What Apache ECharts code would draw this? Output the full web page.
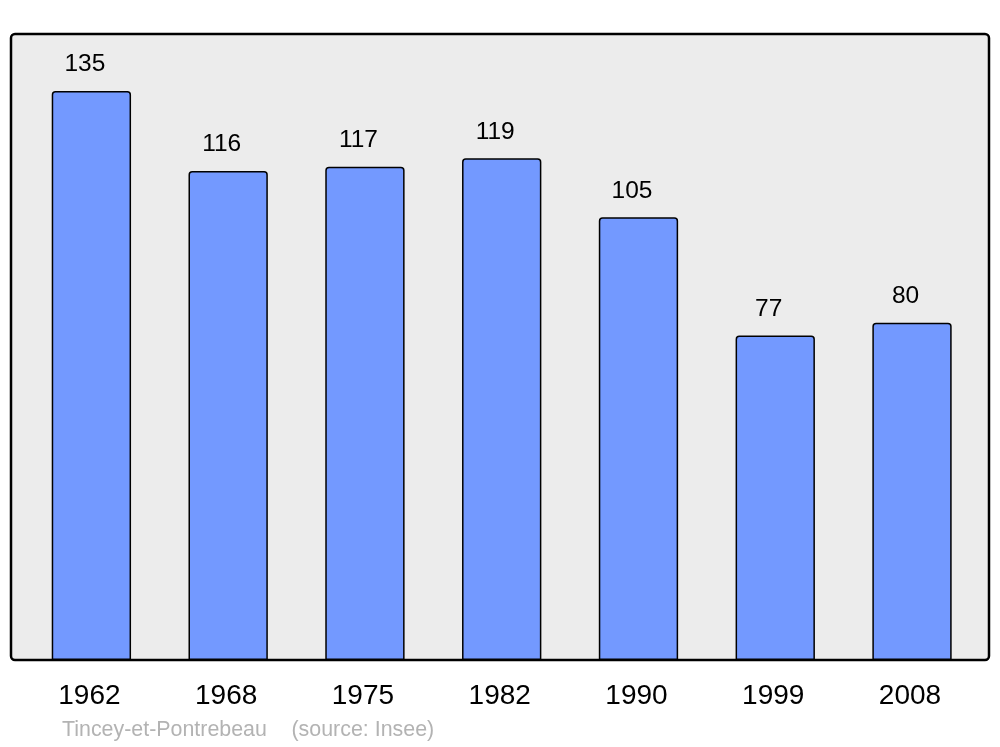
<!DOCTYPE html>
<html><head><meta charset="utf-8">
<script src="https://cdn.jsdelivr.net/npm/echarts@6/dist/echarts.min.js"></script>
<style>html,body{margin:0;padding:0;background:#fff}#c{width:1000px;height:747px}</style>
</head><body><div id="c"></div>
<script>
const years = ['1962','1968','1975','1982','1990','1999','2008'];
const population = [135,116,117,119,105,77,80];
const placeName = 'Tincey-et-Pontrebeau';
const sourceText = '(source: Insee)';

const chart = echarts.init(document.getElementById('c'), null, {renderer:'canvas'});
chart.setOption({
  animation:false,
  backgroundColor:'#ffffff',
  textStyle:{fontFamily:'Liberation Sans, Arial, sans-serif'},
  grid:{left:23, right:19.6, top:34, bottom:87, containLabel:false},
  xAxis:{
    type:'category', data:years,
    axisLine:{show:false}, axisTick:{show:false}, splitLine:{show:false},
    axisLabel:{fontSize:28, color:'#000', margin:22, padding:[0,4,0,0], fontFamily:'Liberation Sans, Arial, sans-serif'}
  },
  yAxis:{
    type:'value', min:0, max:148.5,
    show:false
  },
  graphic:[
    {type:'rect', z:-10, shape:{x:11, y:34, width:978, height:626, r:4},
     style:{fill:'#ececec', stroke:'#000', lineWidth:2.5}},
    {type:'text', left:62, top:720, z:10,
     style:{text:placeName, fill:'#b3b3b3', fontSize:21.4, fontFamily:'Liberation Sans, Arial, sans-serif'}},
    {type:'text', left:291.5, top:720, z:10,
     style:{text:sourceText, fill:'#b3b3b3', fontSize:21.4, fontFamily:'Liberation Sans, Arial, sans-serif'}}
  ],
  series:[{
    type:'bar', data:population, barWidth:'58%',
    itemStyle:{color:'#7399ff', borderColor:'#000', borderWidth:1.5, borderRadius:[3,3,0,0]},
    label:{show:true, position:'top', distance:14, offset:[-6.5,0], fontSize:24.5, color:'#000', fontFamily:'Liberation Sans, Arial, sans-serif'}
  }]
});
</script></body></html>
